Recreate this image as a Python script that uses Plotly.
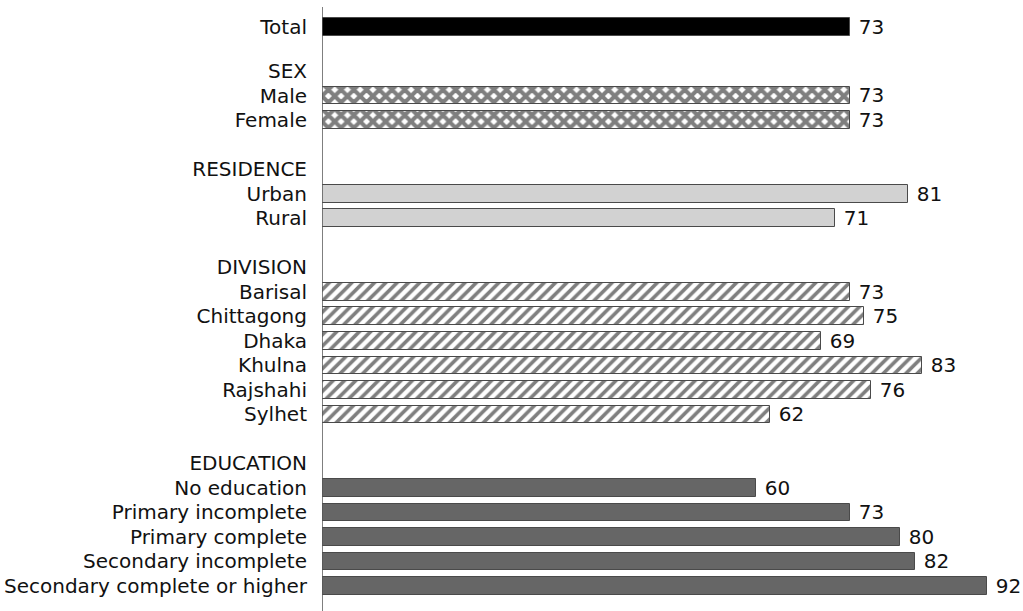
import plotly.graph_objects as go

# Percentages by background characteristic
total_label = ["Total"]
total_values = [73]

sex_labels = ["Male", "Female"]
sex_values = [73, 73]

residence_labels = ["Urban", "Rural"]
residence_values = [81, 71]

division_labels = ["Barisal", "Chittagong", "Dhaka", "Khulna", "Rajshahi", "Sylhet"]
division_values = [73, 75, 69, 83, 76, 62]

education_labels = ["No education", "Primary incomplete", "Primary complete",
                    "Secondary incomplete", "Secondary complete or higher"]
education_values = [60, 73, 80, 82, 92]

groups = [
    ("SEX", sex_labels, sex_values),
    ("RESIDENCE", residence_labels, residence_values),
    ("DIVISION", division_labels, division_values),
    ("EDUCATION", education_labels, education_values),
]

# Row positions: Total on top, then each group as header + its rows with a blank gap
tickvals, ticktext = [0.0], total_label[:]
group_rows = {}
pos = 1.8
for header, labels, values in groups:
    tickvals.append(pos)
    ticktext.append(header)
    pos += 1
    ys = []
    for lab in labels:
        ys.append(pos)
        tickvals.append(pos)
        ticktext.append(lab)
        pos += 1
    group_rows[header] = ys
    pos += 1

FONT = "DejaVu Sans"
FS = 20
BAR_W = 0.72
OUTLINE = dict(color="#4a4a4a", width=1)

fig = go.Figure()


def add_bars(ys, values, marker):
    fig.add_trace(go.Bar(
        x=values, y=ys, orientation="h", width=BAR_W,
        marker=marker,
        text=[f" {v}" for v in values], textposition="outside",
        constraintext="none",
        textfont=dict(family=FONT, size=FS, color="#111111"),
        cliponaxis=False, showlegend=False, hoverinfo="skip",
    ))


add_bars([0.0], total_values, dict(color="#000000", line=OUTLINE))
add_bars(group_rows["SEX"], sex_values,
         dict(color="white", line=OUTLINE,
              pattern=dict(shape="x", size=9, solidity=0.7,
                           fgcolor="#000000", bgcolor="white", fillmode="overlay")))
add_bars(group_rows["RESIDENCE"], residence_values,
         dict(color="#d2d2d2", line=OUTLINE))
add_bars(group_rows["DIVISION"], division_values,
         dict(color="white", line=OUTLINE,
              pattern=dict(shape="/", size=8, solidity=0.45,
                           fgcolor="#000000", bgcolor="white", fillmode="overlay")))
add_bars(group_rows["EDUCATION"], education_values,
         dict(color="#666666", line=OUTLINE))

last = tickvals[-1]
px_per_row = (586 - 27) / last
top = -(27 - 7) / px_per_row
bottom = last + (611 - 586) / px_per_row

fig.update_layout(
    width=1023, height=611,
    margin=dict(l=322, r=0, t=7, b=0),
    paper_bgcolor="white", plot_bgcolor="white",
    bargap=0,
    font=dict(family=FONT, size=FS, color="#111111"),
    xaxis=dict(range=[0, 96.96], visible=False, fixedrange=True),
    yaxis=dict(range=[bottom, top], tickvals=tickvals, ticktext=ticktext,
               showgrid=False, zeroline=False, showline=False,
               ticks="", ticklabelstandoff=14,
               tickfont=dict(family=FONT, size=FS, color="#111111")),
    shapes=[dict(type="line", xref="x", yref="paper", x0=0, x1=0, y0=0, y1=1,
                 line=dict(color="#555555", width=1.5))],
)

fig.write_html("out.html")
